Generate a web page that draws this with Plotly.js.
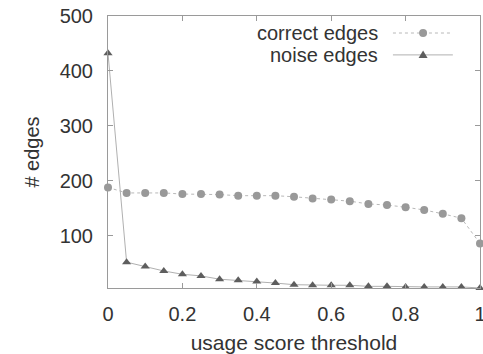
<!DOCTYPE html>
<html>
<head>
<meta charset="utf-8">
<script src="https://cdn.plot.ly/plotly-3.0.1.min.js"></script>
<style>html,body{margin:0;padding:0;background:#fff;}</style>
</head>
<body>
<div id="chart" style="width:483px;height:354px;"></div>
<script>
const thresholds = [0,0.05,0.1,0.15,0.2,0.25,0.3,0.35,0.4,0.45,0.5,0.55,0.6,0.65,0.7,0.75,0.8,0.85,0.9,0.95,1.0];
const correctEdges = [188,178,178,178,176,176,175,173,173,173,171,168,166,163,158,156,152,147,140,132,86];
const noiseEdges = [432,52,44,36,30,27,21,19,17,14,11,10,10,10,8,8,7,7,7,7,5];
const seriesNames = ['correct edges','noise edges'];
const xTicks = [0,0.2,0.4,0.6,0.8,1];
const xTickText = ['0','0.2','0.4','0.6','0.8','1'];
const yTicks = [100,200,300,400,500];

const FONT = 'Liberation Sans, Arial, Helvetica, sans-serif';
const TXT = '#333333';
const AX = '#9a9a9a';
const C_LINE = '#b8b8b8', C_MARK = '#999999';
const N_LINE = '#b0b0b0', N_MARK = '#5e5e5e';

const traces = [
  {x: thresholds, y: correctEdges, name: seriesNames[0], mode: 'lines+markers',
   line: {color: C_LINE, width: 1, dash: 'dot'},
   marker: {symbol: 'circle', size: 8, color: C_MARK}, cliponaxis: false},
  {x: thresholds, y: noiseEdges, name: seriesNames[1], mode: 'lines+markers',
   line: {color: N_LINE, width: 1},
   marker: {symbol: 'triangle-up', size: 8, color: N_MARK}, cliponaxis: false}
];

// legend (text right-aligned, sample to the right)
const legY = [0.9375, 0.857];
const legX0 = 0.766, legX1 = 0.927, legXm = 0.847;
const annotations = seriesNames.map((n, i) => ({
  xref: 'paper', yref: 'paper', x: 0.731, y: legY[i], xanchor: 'right', yanchor: 'middle',
  text: n, showarrow: false, font: {family: FONT, size: 20, color: TXT}
}));
const shapes = [
  {type: 'line', xref: 'paper', yref: 'paper', x0: legX0, x1: legX1, y0: legY[0], y1: legY[0],
   line: {color: C_LINE, width: 1, dash: 'dot'}},
  {type: 'line', xref: 'paper', yref: 'paper', x0: legX0, x1: legX1, y0: legY[1], y1: legY[1],
   line: {color: N_LINE, width: 1}},
  {type: 'circle', xref: 'paper', yref: 'paper', xsizemode: 'pixel', ysizemode: 'pixel',
   xanchor: legXm, yanchor: legY[0], x0: -4, x1: 4, y0: -4, y1: 4,
   fillcolor: C_MARK, line: {width: 0}},
  {type: 'path', xref: 'paper', yref: 'paper', xsizemode: 'pixel', ysizemode: 'pixel',
   xanchor: legXm, yanchor: legY[1], path: 'M -4.5 -3 L 4.5 -3 L 0 4.5 Z',
   fillcolor: N_MARK, line: {width: 0}}
];

const layout = {
  width: 483, height: 354,
  margin: {l: 108, r: 3, t: 16, b: 66},
  paper_bgcolor: '#fff', plot_bgcolor: '#fff',
  showlegend: false,
  font: {family: FONT, size: 20, color: TXT},
  xaxis: {
    range: [0, 1], tickvals: xTicks, ticktext: xTickText,
    showgrid: false, zeroline: false, showline: true, linecolor: AX, linewidth: 1,
    mirror: 'ticks', ticks: 'inside', ticklen: 5, tickcolor: AX,
    ticklabeloverflow: 'allow', ticklabelstandoff: 8,
    tickfont: {family: FONT, size: 20, color: TXT},
    title: {text: 'usage score threshold', font: {family: FONT, size: 21, color: TXT}, standoff: 14}
  },
  yaxis: {
    range: [5, 500], tickvals: yTicks,
    showgrid: false, zeroline: false, showline: true, linecolor: AX, linewidth: 1,
    mirror: 'ticks', ticks: 'inside', ticklen: 5, tickcolor: AX,
    ticklabelstandoff: 10,
    tickfont: {family: FONT, size: 20, color: TXT},
    title: {text: '# edges', font: {family: FONT, size: 20, color: TXT}, standoff: 14}
  },
  annotations: annotations,
  shapes: shapes
};

Plotly.newPlot('chart', traces, layout, {displayModeBar: false, staticPlot: true});
</script>
</body>
</html>
